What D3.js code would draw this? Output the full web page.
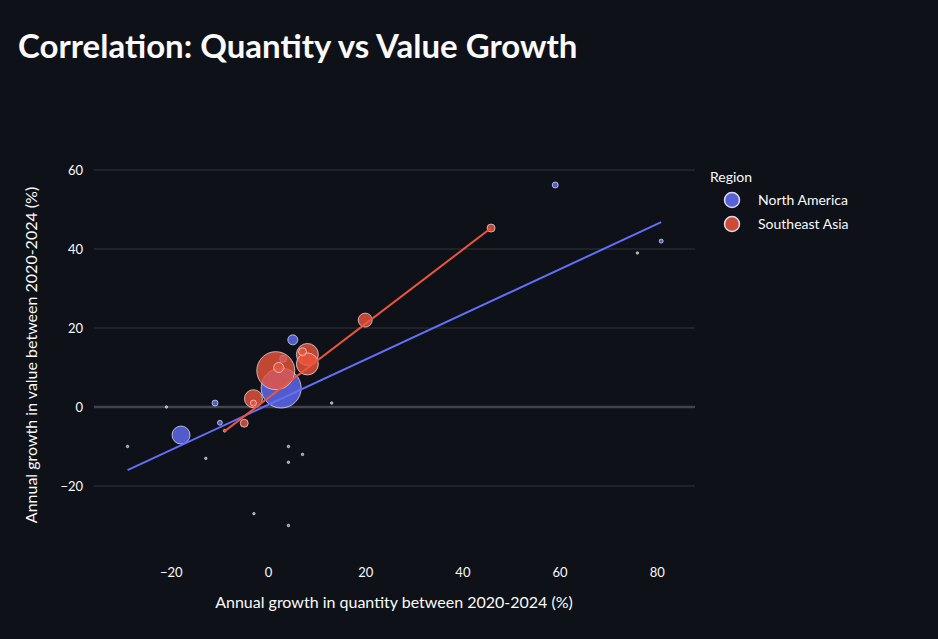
<!DOCTYPE html>
<html>
<head>
<meta charset="utf-8">
<script src="https://cdn.jsdelivr.net/npm/d3@7"></script>
<style>
  body { margin: 0; background: #0e1117; }
  svg { display: block; font-family: "Source Sans Pro", Lato, "Noto Sans", sans-serif; }
</style>
</head>
<body>
<svg id="chart" width="938" height="639"></svg>
<script>
// data
var regions = ["North America", "Southeast Asia"]
var colors = ["#636efa", "#ef553b"]

// North America: quantity growth, value growth, bubble size
var naQty   = [2.6, -18, 5, 3, -11, -10, -21, -29, -12.9, 4.1, 4.1, 7, -3, 4.1, 13, 59, 80.8, 75.9]
var naValue = [4.8, -7.1, 17, 12.2, 1, -4, 0, -10, -13, -10, -14, -12, -27, -30, 1, 56.2, 42, 39]
var naSize  = [400, 81, 25, 12, 9, 6, 1, 1, 1, 1.5, 1.5, 1, 1, 1.5, 1, 9, 4, 1]

// Southeast Asia
var seaQty   = [1.5, 8, 8, 7, 2.1, -3.1, -3.1, -5, 19.9, 45.8, -9]
var seaValue = [9.2, 13.3, 10.9, 14, 10, 2.1, 1, -4.1, 22, 45.3, -6]
var seaSize  = [361, 121, 121, 16, 25, 81, 9, 16, 49, 16, 2]

// OLS trendline ends as drawn
var naTrendX = [-29, 80.8], naTrendY = [-16, 46.8]
var seaTrendX = [-9, 45.8], seaTrendY = [-6.1, 45.3]

var xTicks = [-20, 0, 20, 40, 60, 80]
var yTicks = [-20, 0, 20, 40, 60]

var svg = d3.select("#chart")
var plot = { left: 94, right: 695, top: 140, bottom: 556 }

var x = d3.scaleLinear().domain([-20, 80]).range([171.3, 657.3])
var y = d3.scaleLinear().domain([-20, 60]).range([486, 170])
var r = d3.scaleSqrt().domain([0, 400]).range([0, 20])

// title
svg.append("text")
    .attr("x", 18).attr("y", 58)
    .style("fill", "#fafafa")
    .style("font-size", "33px")
    .style("font-weight", "bold")
    .text("Correlation: Quantity vs Value Growth")

// gridlines
svg.append("g").selectAll("line")
    .data(yTicks)
    .enter().append("line")
    .attr("x1", plot.left).attr("x2", plot.right)
    .attr("y1", function(d) { return y(d) }).attr("y2", function(d) { return y(d) })
    .style("stroke", function(d) { return d === 0 ? "#42444c" : "#33353d" })
    .style("stroke-width", function(d) { return d === 0 ? 2.5 : 1 })

// tick labels
var fmt = function(d) { return d < 0 ? "\u2212" + Math.abs(d) : String(d) }
svg.append("g").selectAll("text")
    .data(yTicks)
    .enter().append("text")
    .attr("x", 83).attr("y", function(d) { return y(d) })
    .attr("dy", "0.35em")
    .attr("text-anchor", "end")
    .style("fill", "#fafafa").style("font-size", "13px")
    .text(fmt)

svg.append("g").selectAll("text")
    .data(xTicks)
    .enter().append("text")
    .attr("x", function(d) { return x(d) }).attr("y", 577)
    .attr("text-anchor", "middle")
    .style("fill", "#fafafa").style("font-size", "13px")
    .text(fmt)

// axis titles
svg.append("text")
    .attr("x", 394).attr("y", 608)
    .attr("text-anchor", "middle")
    .style("fill", "#fafafa").style("font-size", "16px")
    .text("Annual growth in quantity between 2020-2024 (%)")

svg.append("text")
    .attr("transform", "translate(37,355) rotate(-90)")
    .attr("text-anchor", "middle")
    .style("fill", "#fafafa").style("font-size", "16px")
    .text("Annual growth in value between 2020-2024 (%)")

// bubbles
function bubbles(qty, val, size, color) {
  var pts = qty.map(function(d, i) { return { q: d, v: val[i], s: size[i] } })
  pts.sort(function(a, b) { return b.s - a.s })
  svg.append("g").selectAll("circle")
      .data(pts)
      .enter().append("circle")
      .attr("cx", function(d) { return x(d.q) })
      .attr("cy", function(d) { return y(d.v) })
      .attr("r", function(d) { return Math.max(r(d.s), 1.2) })
      .style("fill", function(d) { return d.s < 2 ? "#b8b8c8" : color })
      .style("fill-opacity", 0.8)
      .style("stroke", "#e0e0ee")
      .style("stroke-opacity", 0.75)
      .style("stroke-width", 1)
}
bubbles(naQty, naValue, naSize, colors[0])
bubbles(seaQty, seaValue, seaSize, colors[1])

// trendlines
var line = d3.line().x(function(d) { return x(d[0]) }).y(function(d) { return y(d[1]) })
svg.append("path")
    .attr("d", line(naTrendX.map(function(d, i) { return [d, naTrendY[i]] })))
    .style("fill", "none").style("stroke", colors[0]).style("stroke-width", 2)
svg.append("path")
    .attr("d", line(seaTrendX.map(function(d, i) { return [d, seaTrendY[i]] })))
    .style("fill", "none").style("stroke", colors[1]).style("stroke-width", 2)

// legend
svg.append("text").attr("x", 710).attr("y", 182)
    .style("fill", "#fafafa").style("font-size", "14px").text("Region")
regions.forEach(function(name, i) {
  svg.append("circle").attr("cx", 732).attr("cy", 200 + i * 24).attr("r", 7.5)
      .style("fill", colors[i]).style("fill-opacity", 0.85)
      .style("stroke", "#dcdcf0").style("stroke-width", 1.5)
  svg.append("text").attr("x", 758).attr("y", 200 + i * 24).attr("dy", "0.35em")
      .style("fill", "#fafafa").style("font-size", "14px").text(name)
})
</script>
</body>
</html>
